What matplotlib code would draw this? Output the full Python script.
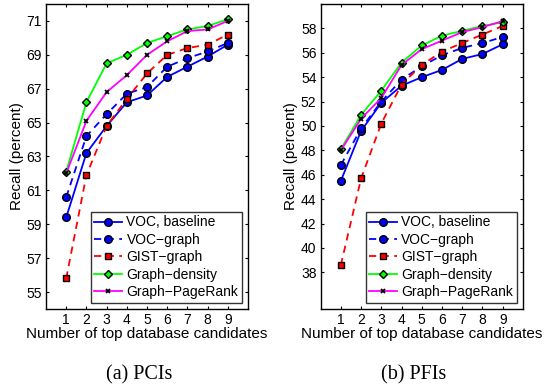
import matplotlib
matplotlib.use("Agg")
import matplotlib.pyplot as plt

plt.rcParams['font.family'] = ['Liberation Sans', 'DejaVu Sans']

# Data
candidates = [1, 2, 3, 4, 5, 6, 7, 8, 9]
series_names = ["VOC, baseline", "VOC\u2212graph", "GIST\u2212graph", "Graph\u2212density", "Graph\u2212PageRank"]

# (a) PCIs
pci_voc_baseline = [59.4, 63.2, 64.8, 66.2, 66.6, 67.7, 68.3, 68.9, 69.6]
pci_voc_graph = [60.6, 64.2, 65.5, 66.7, 67.1, 68.3, 68.8, 69.2, 69.7]
pci_gist_graph = [55.8, 61.9, 64.8, 66.4, 67.9, 69.0, 69.4, 69.6, 70.2]
pci_graph_density = [62.1, 66.2, 68.5, 69.0, 69.7, 70.1, 70.5, 70.7, 71.1]
pci_graph_pagerank = [62.0, 65.1, 66.8, 67.8, 69.0, 69.8, 70.4, 70.5, 71.0]

# (b) PFIs
pfi_voc_baseline = [45.5, 49.6, 51.9, 53.3, 54.0, 54.6, 55.5, 55.9, 56.7]
pfi_voc_graph = [46.8, 49.8, 52.0, 53.8, 54.9, 55.8, 56.4, 56.8, 57.3]
pfi_gist_graph = [38.6, 45.7, 50.2, 53.4, 55.0, 56.1, 56.8, 57.5, 58.2]
pfi_graph_density = [48.1, 50.9, 52.9, 55.2, 56.6, 57.4, 57.8, 58.2, 58.5]
pfi_graph_pagerank = [48.0, 50.6, 52.3, 55.0, 56.3, 57.0, 57.7, 58.1, 58.6]

pci_yticks = [55, 57, 59, 61, 63, 65, 67, 69, 71]
pfi_yticks = [38, 40, 42, 44, 46, 48, 50, 52, 54, 56, 58]

styles = [
    dict(color='#0000ff', ls='-', marker='o', mfc='#0000ff', mec='black', ms=5.5, mew=1.0),
    dict(color='#0000ff', ls='--', marker='o', mfc='#0000ff', mec='black', ms=5.5, mew=1.0),
    dict(color='#ff0000', ls='--', marker='s', mfc='#ff0000', mec='black', ms=4.5, mew=1.0),
    dict(color='#00ff00', ls='-', marker='D', mfc='#00ff00', mec='black', ms=4.5, mew=1.0),
    dict(color='#ff00ff', ls='-', marker='x', mec='black', ms=3.5, mew=1.3),
]


def draw_panel(ax, series, yticks, ylim):
    for name, values, st in zip(series_names, series, styles):
        line, = ax.plot(candidates, values, label=name, linewidth=1.3, **st)
        if st['ls'] == '--':
            line.set_dashes((4, 3))
    ax.set_xlim(0, 10)
    ax.set_ylim(*ylim)
    ax.set_xticks(candidates)
    ax.set_yticks(yticks)
    ax.tick_params(direction='in', labelsize=10, length=2.5, top=True, right=True, pad=3)
    ax.set_xlabel("Number of top database candidates", fontsize=11, labelpad=0)
    ax.set_ylabel("Recall (percent)", fontsize=11, labelpad=2)
    leg = ax.legend(loc='lower right', fontsize=10, frameon=True, fancybox=False,
                    edgecolor='black', handlelength=2.0, handletextpad=0.3,
                    borderpad=0.25, labelspacing=0.25, borderaxespad=0.45)
    leg.get_frame().set_linewidth(1.0)
    for sp in ax.spines.values():
        sp.set_linewidth(1.0)


fig = plt.figure(figsize=(5.49, 3.89), dpi=100)
ax1 = fig.add_axes([0.0838, 0.2057, 0.368, 0.784])
ax2 = fig.add_axes([0.584, 0.2057, 0.3685, 0.784])

draw_panel(ax1, [pci_voc_baseline, pci_voc_graph, pci_gist_graph, pci_graph_density, pci_graph_pagerank],
           pci_yticks, (54, 72))
draw_panel(ax2, [pfi_voc_baseline, pfi_voc_graph, pfi_gist_graph, pfi_graph_density, pfi_graph_pagerank],
           pfi_yticks, (35, 60))

fig.text(0.254, 0.036, "(a) PCIs", ha='center', va='center', fontsize=14.5, family='Liberation Serif')
fig.text(0.753, 0.036, "(b) PFIs", ha='center', va='center', fontsize=14.5, family='Liberation Serif')

fig.savefig("out.png", dpi=100)
